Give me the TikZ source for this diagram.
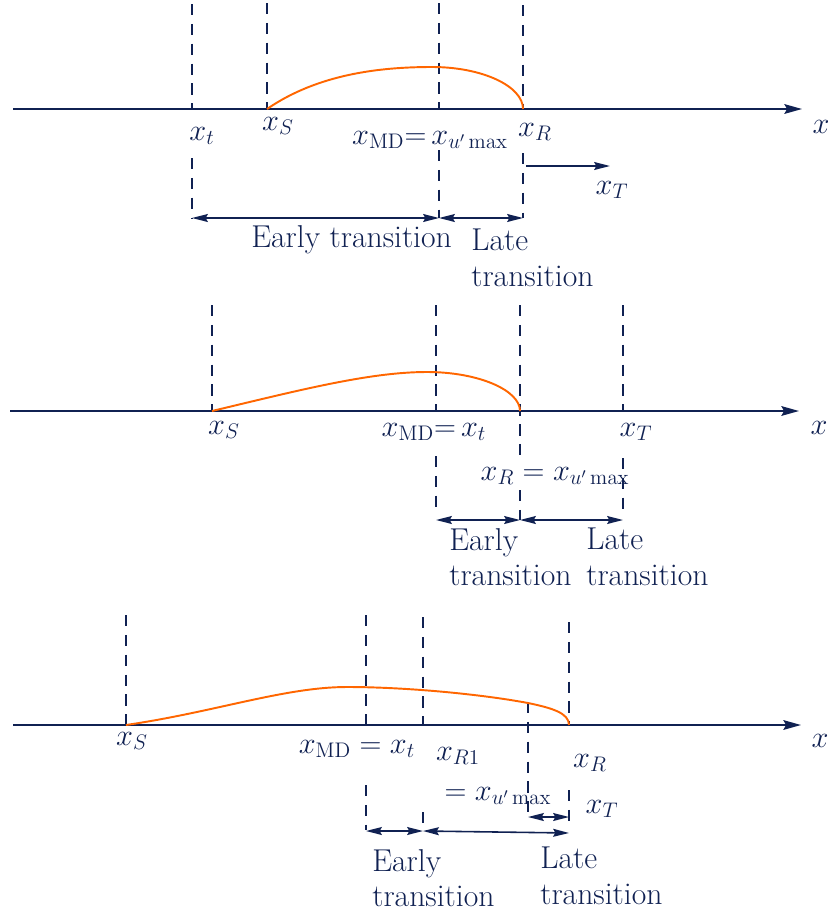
\documentclass[tikz,border=0pt]{standalone}
\usepackage{amsmath}
\usetikzlibrary{arrows.meta, positioning}
\definecolor{navy}{RGB}{16,33,82}
\definecolor{flow}{RGB}{255,102,0}

\begin{document}
\begin{tikzpicture}[
    x=0.02cm, y=-0.02cm,
    xaxis/.style = {draw=navy, line width=1.1pt, -{Stealth[length=10pt, width=5.5pt, inset=1.5pt]}},
    guide/.style = {draw=navy, line width=1pt, dash pattern=on 6.5pt off 4.8pt},
    dimarrow/.style = {draw=navy, line width=0.9pt, {Stealth[length=9pt, width=4.5pt, inset=1.2pt]}-{Stealth[length=9pt, width=4.5pt, inset=1.2pt]}},
    move/.style = {draw=navy, line width=0.9pt, -{Stealth[length=9pt, width=4.5pt, inset=1.2pt]}},
    layer/.style = {draw=flow, line width=1.1pt},
    lbl/.style = {text=navy, font=\fontsize{16.5}{20}\selectfont, inner sep=0pt},
    note/.style = {lbl, font=\fontsize{18}{20}\selectfont, align=left, anchor=north west}
]
    \useasboundingbox (0,0) rectangle (828,913);

    % === CASE 1: TRANSITION STARTS UPSTREAM ===
    \coordinate (axLa) at (13,109);
    \coordinate (axRa) at (802,109);
    \draw[xaxis] (axLa) -- (axRa);
    \node[lbl] (xa) at (821,127) {$x$};

    \draw[guide] (192,4) -- (192,109);
    \draw[guide] (192,158) -- (192,218);
    \draw[guide] (267,3) -- (267,109);
    \draw[guide] (439,3) -- (439,109);
    \draw[guide] (439,150) -- (439,218);
    \draw[guide] (523,5) -- (523,109);
    \draw[guide] (523,153) -- (523,218);

    \draw[layer] (267,109) .. controls (318,74) and (380,67) .. (432,67)
                          .. controls (482,67) and (523,86) .. (523,109);

    \node[lbl] (xta) at (202,136) {$x_t$};
    \node[lbl] (xSa) at (278,126) {$x_S$};
    \node[lbl] (mda) at (430,140) {$x_{\mathrm{MD}}{=}\,x_{u'\max}$};
    \node[lbl] (xRa) at (535,132) {$x_R$};
    \node[lbl] (xTa) at (612,190) {$x_T$};

    \coordinate (mvA) at (526,166);
    \coordinate (mvB) at (610,166);
    \draw[move] (mvA) -- (mvB);

    \coordinate (ea) at (192,218);
    \coordinate (ma) at (439,218);
    \coordinate (ra) at (523,218);
    \draw[dimarrow] (ea) -- (ma);
    \draw[dimarrow] (ma) -- (ra);
    \node[note] (earlya) at (251,225) {Early transition};
    \node[note] (latea) at (471,229) {Late\\transition};

    % === CASE 2: TRANSITION STARTS AT MAXIMUM DISPLACEMENT ===
    \coordinate (axLb) at (10,411);
    \coordinate (axRb) at (799,411);
    \draw[xaxis] (axLb) -- (axRb);
    \node[lbl] (xb) at (819,428) {$x$};

    \draw[guide] (212,305) -- (212,411);
    \draw[guide] (436,305) -- (436,411);
    \draw[guide] (436,456) -- (436,510);
    \draw[guide] (520,305) -- (520,455);
    \draw[guide] (520,490) -- (520,520);
    \draw[guide] (623,305) -- (623,411);
    \draw[guide] (623,458) -- (623,510);

    \draw[layer] (212,411) .. controls (300,390) and (370,372) .. (427,372)
                          .. controls (478,372) and (520,390) .. (520,411);

    \node[lbl] (xSb) at (224,430) {$x_S$};
    \node[lbl] (mdb) at (434,432) {$x_{\mathrm{MD}}{=}\,x_t$};
    \node[lbl] (xTb) at (636,432) {$x_T$};
    \node[lbl] (xRb) at (555,476) {$x_R = x_{u'\max}$};

    \coordinate (eb) at (436,520);
    \coordinate (mb) at (520,520);
    \coordinate (rb) at (623,520);
    \draw[dimarrow] (eb) -- (mb);
    \draw[dimarrow] (mb) -- (rb);
    \node[note] (earlyb) at (449,528) {Early\\transition};
    \node[note] (lateb) at (586,528) {Late\\transition};

    % === CASE 3: SECOND REATTACHMENT POINT ===
    \coordinate (axLc) at (13,725);
    \coordinate (axRc) at (801,725);
    \draw[xaxis] (axLc) -- (axRc);
    \node[lbl] (xc) at (820,741) {$x$};

    \draw[guide] (126,615) -- (126,725);
    \draw[guide] (366,615) -- (366,725);
    \draw[guide] (366,785) -- (366,830);
    \draw[guide] (423,617) -- (423,725);
    \draw[guide] (423,812) -- (423,830);
    \draw[guide] (528,702) -- (528,812);
    \draw[guide] (569,622) -- (569,725);
    \draw[guide] (569,790) -- (569,825);

    \draw[layer] (126,725) .. controls (215,712) and (285,687) .. (347,687)
                          .. controls (405,687) and (480,694) .. (528,703)
                          .. controls (552,708) and (569,713) .. (569,725);

    \node[lbl] (xSc) at (132,741) {$x_S$};
    \node[lbl] (mdc) at (357,749) {$x_{\mathrm{MD}} = x_t$};
    \node[lbl] (xR1c) at (458,756) {$x_{R1}$};
    \node[lbl] (upc) at (498,796) {$= x_{u'\max}$};
    \node[lbl] (xRc) at (590,763) {$x_R$};
    \node[lbl] (xTc) at (602,809) {$x_T$};

    \coordinate (uc) at (528,817);
    \coordinate (qc) at (569,817);
    \draw[dimarrow] (uc) -- (qc);

    \coordinate (ec) at (366,831);
    \coordinate (mc) at (423,831);
    \coordinate (rc) at (569,833);
    \draw[dimarrow] (ec) -- (mc);
    \draw[dimarrow] (mc) -- (rc);
    \node[note] (earlyc) at (372,849) {Early\\transition};
    \node[note] (latec) at (540,847) {Late\\transition};

\end{tikzpicture}
\end{document}
